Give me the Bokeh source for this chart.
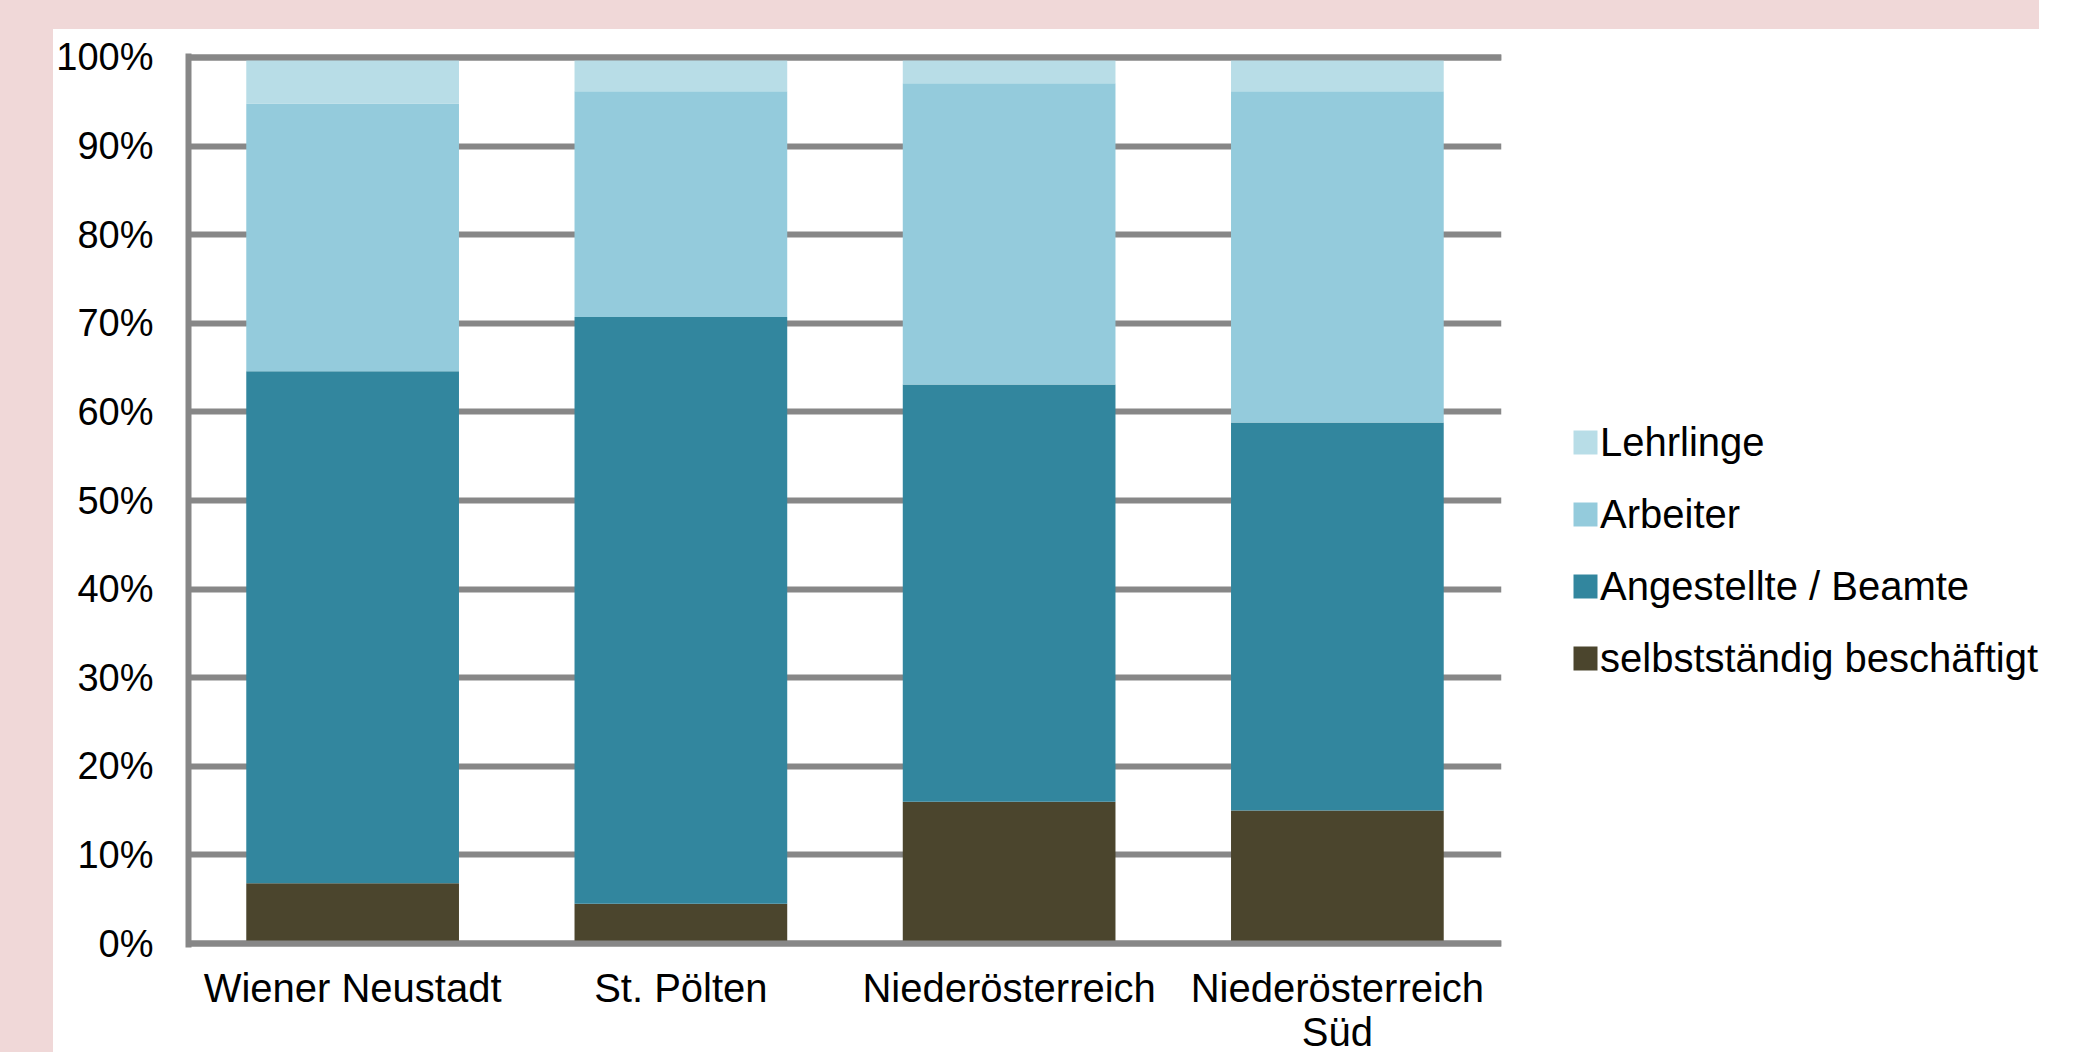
from bokeh.plotting import figure
from bokeh.models import (FactorRange, Range1d, FixedTicker, Legend, LegendItem, Span, Spacer)
from bokeh.layouts import row, column
from bokeh.embed import file_html
from bokeh.resources import INLINE

# ---- data ----
categories = ["Wiener Neustadt", "St. Pölten", "Niederösterreich", "Niederösterreich\nSüd"]
selbststaendig = [6.8, 4.5, 16.0, 15.0]
angestellte = [57.8, 66.2, 47.1, 43.8]
arbeiter = [30.2, 25.5, 34.0, 37.4]
lehrlinge = [5.2, 3.8, 2.9, 3.8]
series_names = ["selbstständig beschäftigt", "Angestellte / Beamte", "Arbeiter", "Lehrlinge"]
y_ticks = [0, 10, 20, 30, 40, 50, 60, 70, 80, 90, 100]
y_tick_labels = ["0%", "10%", "20%", "30%", "40%", "50%", "60%", "70%", "80%", "90%", "100%"]

colors = ["#4B452D", "#32869E", "#94CBDC", "#B8DDE7"]
GRID = "#878787"
PINK = "#F0D8D8"
FONT = "Liberation Sans"

data = dict(cat=categories, s0=selbststaendig, s1=angestellte, s2=arbeiter, s3=lehrlinge)
stack_cols = ["s0", "s1", "s2", "s3"]

eps = 0.45
p = figure(x_range=FactorRange(*categories, range_padding=0),
           y_range=Range1d(-eps, 100 + eps),
           width=1458, height=1040, output_backend="svg", toolbar_location=None,
           min_border_left=133, min_border_right=10, min_border_top=24, min_border_bottom=122)
p.outline_line_color = None
p.background_fill_color = "white"
p.border_fill_color = "white"

renderers = p.vbar_stack(stack_cols, x="cat", width=0.648, source=data,
                         color=colors, line_width=0)

# grid
p.xgrid.grid_line_color = None
p.ygrid.ticker = FixedTicker(ticks=y_ticks)
p.ygrid.grid_line_color = GRID
p.ygrid.grid_line_width = 6

for loc in (y_ticks[0], y_ticks[-1]):
    p.add_layout(Span(location=loc, dimension="width", line_color=GRID, line_width=6, level="overlay"))

# y axis
yax = p.yaxis[0]
yax.ticker = FixedTicker(ticks=y_ticks)
yax.major_label_overrides = {t: l for t, l in zip(y_ticks, y_tick_labels)}
yax.axis_line_color = GRID
yax.axis_line_width = 6
yax.major_tick_line_color = None
yax.minor_tick_line_color = None
yax.major_tick_out = 0
yax.major_tick_in = 0
yax.major_label_standoff = 35
yax.major_label_text_font = FONT
yax.major_label_text_font_size = "38px"
yax.major_label_text_color = "black"

# x axis
xax = p.xaxis[0]
xax.axis_line_color = None
xax.major_tick_line_color = None
xax.minor_tick_line_color = None
xax.major_tick_out = 0
xax.major_tick_in = 0
xax.major_label_standoff = 18
xax.major_label_text_font = FONT
xax.major_label_text_font_size = "40px"
xax.major_label_text_color = "black"
xax.major_label_text_line_height = 1.0

# ---- legend panel (separate canvas to the right of the plot area) ----
p2 = figure(width=528, height=1040, x_range=FactorRange(*categories), y_range=Range1d(0, 100),
            x_axis_type=None, y_axis_type=None, output_backend="svg", toolbar_location=None,
            min_border=0)
p2.outline_line_color = None
p2.grid.grid_line_color = None
p2.background_fill_color = "white"
p2.border_fill_color = "white"

proxies = p2.vbar_stack(stack_cols, x="cat", width=0.648, source=data,
                        color=colors, line_width=0, visible=False)
items = [LegendItem(label=series_names[i], renderers=[proxies[i]]) for i in [3, 2, 1, 0]]
legend = Legend(items=items, location=(59, 265), orientation="vertical")
legend.padding = 0
legend.margin = 0
legend.border_line_color = None
legend.background_fill_alpha = 0
legend.inactive_fill_alpha = 0
legend.glyph_width = 30
legend.glyph_height = 30
legend.label_height = 48
legend.spacing = 24
legend.label_standoff = 0
legend.label_text_font = FONT
legend.label_text_font_size = "40px"
legend.label_text_color = "black"
p2.add_layout(legend, "center")

layout = column(Spacer(height=29),
                row(Spacer(width=53),
                    row(p, p2, styles={"background-color": "white"})),
                height=1052,
                styles={"background-color": PINK, "overflow": "hidden"})

open("out.html", "w").write(file_html(layout, INLINE))
